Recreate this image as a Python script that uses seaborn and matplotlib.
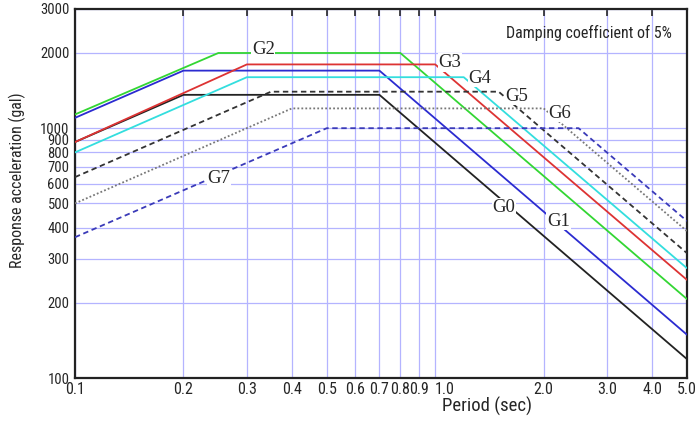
import matplotlib
matplotlib.use("Agg")
import matplotlib.pyplot as plt
from matplotlib import font_manager
import pandas as pd
import seaborn as sns

# ground types and the corner points of each design spectrum
ground = ["G0", "G1", "G2", "G3", "G4", "G5", "G6", "G7"]
t_start = 0.1
t_end = 5.0
v_start = [880, 1100, 1135, 880, 800, 637, 500, 366]
t_flat_start = [0.2, 0.2, 0.25, 0.3, 0.3, 0.35, 0.4, 0.5]
v_flat = [1360, 1700, 2000, 1800, 1600, 1400, 1200, 1000]
t_flat_end = [0.7, 0.7, 0.8, 1.0, 1.2, 1.5, 2.0, 2.5]
v_end = [119, 149, 207, 247, 275, 316, 387, 425]

# label positions (period, acceleration)
label_t = [1.55, 2.20, 0.333, 1.10, 1.33, 1.68, 2.22, 0.251]
label_v = [483, 425, 2060, 1830, 1585, 1343, 1148, 631]

x_ticks = [0.1, 0.2, 0.3, 0.4, 0.5, 0.6, 0.7, 0.8, 0.9, 1.0, 2.0, 3.0, 4.0, 5.0]
y_ticks = [100, 200, 300, 400, 500, 600, 700, 800, 900, 1000, 2000, 3000]

rows = []
for i, g in enumerate(ground):
    pts = [(t_start, v_start[i]), (t_flat_start[i], v_flat[i]),
           (t_flat_end[i], v_flat[i]), (t_end, v_end[i])]
    for k, (t, v) in enumerate(pts):
        rows.append({"ground": g, "order": k, "period": t, "acc": v})
df = pd.DataFrame(rows)

colors = {"G0": "#222222", "G1": "#2b2bd0", "G2": "#33d633", "G3": "#dd3333",
          "G4": "#33dede", "G5": "#333333", "G6": "#777777", "G7": "#3a3ab8"}
styles = {"G0": "", "G1": "", "G2": "", "G3": "", "G4": "",
          "G5": (3, 2), "G6": (1, 1.2), "G7": (3, 2)}

sns.set_style("white")

# the reference uses a narrow sans font; take one if the machine has it
narrow_name, narrow_stretch = None, "normal"
for f in font_manager.fontManager.ttflist:
    condensed = ("Narrow" in f.name or "Condensed" in f.name
                 or f.stretch in ("condensed", "semi-condensed"))
    if condensed and f.style == "normal" and f.weight in (400, "normal", "regular"):
        if "Serif" in f.name or "Mono" in f.name:
            continue
        narrow_name, narrow_stretch = f.name, f.stretch
        if "Liberation" in f.name:
            break

if narrow_name:
    plt.rcParams["font.family"] = [narrow_name, "DejaVu Sans"]
    plt.rcParams["font.stretch"] = narrow_stretch
    xt_size, yt_size, xlab_size, ylab_size, note_size = 11.5, 10.5, 13.5, 11.5, 11.5
else:
    plt.rcParams["font.family"] = ["Liberation Sans", "DejaVu Sans"]
    xt_size, yt_size, xlab_size, ylab_size, note_size = 9, 9, 12, 10, 10

fig = plt.figure(figsize=(6.99, 4.21), dpi=100)
ax = fig.add_axes([75 / 699, 1 - 378 / 421, 612 / 699, 369 / 421])

ax.set_xscale("log")
ax.set_yscale("log")

sns.lineplot(data=df, x="period", y="acc", hue="ground", style="ground",
             palette=colors, dashes=styles, sort=False, estimator=None,
             linewidth=1.3, legend=False, ax=ax, zorder=3)

ax.set_xlim(0.1, 5.0)
ax.set_ylim(100, 3000)
ax.set_xticks(x_ticks)
ax.set_xticklabels(["%.1f" % t for t in x_ticks])
ax.set_yticks(y_ticks)
ax.set_yticklabels([str(v) for v in y_ticks])
ax.minorticks_off()
ax.grid(True, color="#b4b4ff", linewidth=0.9, zorder=0)
ax.tick_params(axis="both", direction="in", length=5, width=1.2,
               top=True, right=False)
ax.tick_params(axis="x", pad=3, labelsize=xt_size)
ax.tick_params(axis="y", pad=4, labelsize=yt_size)
for s in ax.spines.values():
    s.set_color("#222222")
    s.set_linewidth(1.6)

# in the reference the "1.0" label starts at its tick
for lab in ax.get_xticklabels():
    if lab.get_text() == "1.0":
        lab.set_ha("left")

for i, g in enumerate(ground):
    ax.text(label_t[i], label_v[i], g, family=["Liberation Serif", "DejaVu Serif"],
            fontsize=13.5, ha="center", va="center", zorder=5,
            bbox=dict(facecolor="white", edgecolor="none", pad=0.5))

ax.text(0.975, 0.935, "Damping coefficient of 5%", transform=ax.transAxes,
        ha="right", va="center", fontsize=note_size)

ax.set_xlabel("Period (sec)", fontsize=xlab_size)
ax.xaxis.set_label_coords(0.673, -0.05)
ax.set_ylabel("Response acceleration (gal)", fontsize=ylab_size)
ax.yaxis.set_label_coords(-0.08, 0.537)

fig.savefig("out.png", dpi=100)
